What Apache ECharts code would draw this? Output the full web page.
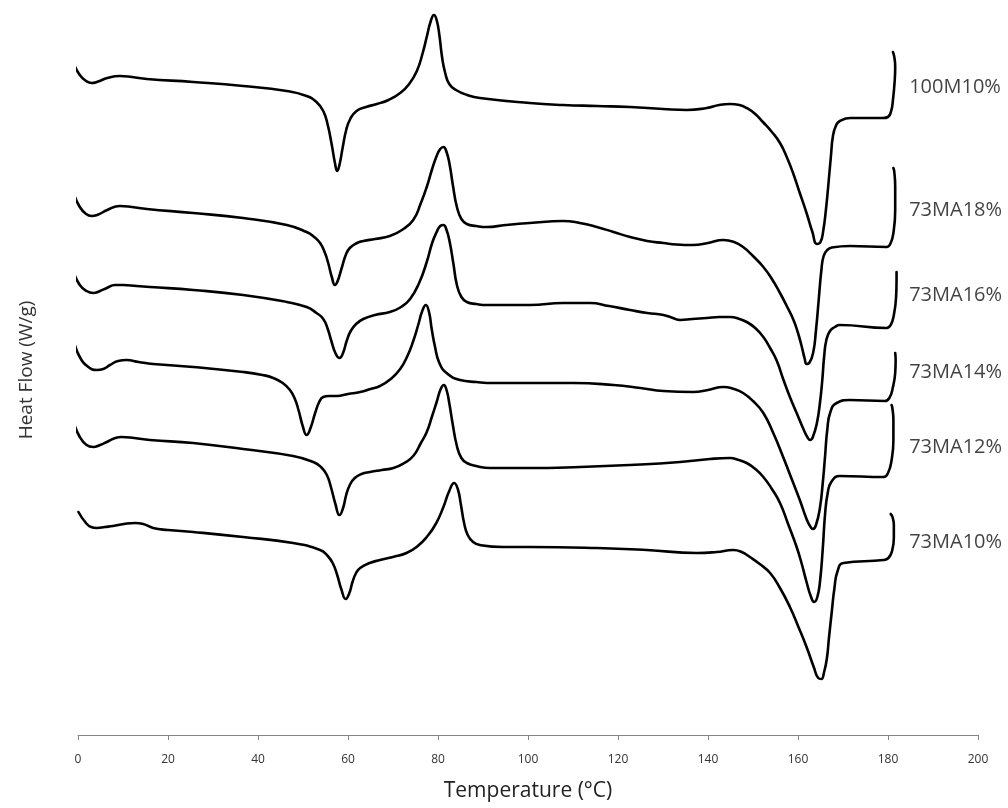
<!DOCTYPE html>
<html><head><meta charset="utf-8">
<script src="https://cdn.jsdelivr.net/npm/echarts@6/dist/echarts.min.js"></script>
<style>html,body{margin:0;padding:0;background:#fff}#c{width:1008px;height:808px}</style>
</head><body><div id="c"></div><script>
// Sample names (top to bottom)
const sampleNames = ['100M10%', '73MA18%', '73MA16%', '73MA14%', '73MA12%', '73MA10%'];

// Temperature (°C) and stacked heat flow (offset units) for each trace
const t_100M10 = [-1.0,0.4,1.8,3.0,4.5,6.5,9.3,12,15.3,25.6,36.7,46.4,50.8,53.0,54.5,55.5,56.4,57.1,57.6,58.1,58.8,59.6,60.5,61.9,64,66.4,69,71.6,73.6,75.3,76.6,77.6,78.4,79.1,79.7,80.3,80.9,81.6,82.5,84,86.5,89.3,100.4,107.8,115.3,122.7,130.0,135.3,139.7,142.5,144.9,147,148.6,150.5,152.2,154.2,156.0,157.5,158.9,160.4,161.9,163.2,164.2,165.0,165.6,166.2,166.7,167.3,167.8,168.5,169.3,171.6,178.9,180.0,180.7,181.1,181.5,181.6,181.4,181.1];
const hf_100M10 = [67.2,66.0,65.4,65.2,65.35,65.7,65.9,65.8,65.6,65.3,64.9,64.4,63.9,63.3,62.4,61.0,59.0,57.2,56.4,57.0,58.7,60.5,61.6,62.4,62.8,63.1,63.5,64.2,65.1,66.4,68.2,70.0,71.4,72.0,71.5,70.0,67.8,66.2,65.1,64.5,64.0,63.7,63.2,63.0,62.9,62.8,62.6,62.5,62.7,63.0,63.1,63.0,62.7,62.1,61.3,60.3,59.2,57.8,56.2,54.2,52.2,50.3,49.1,49.3,50.4,52.5,54.8,57.8,60.0,61.0,61.4,61.7,61.7,61.8,62.4,63.5,65.5,66.8,67.8,68.3];

const t_73MA18 = [-1.0,0.4,1.8,3.0,4.5,6.5,9.3,12,15.3,25.6,36.7,46.4,50.8,52.5,53.8,54.8,55.6,56.4,57.1,57.7,58.6,59.5,60.4,62,63.4,66,69.3,72,74.5,76.2,77.5,78.7,79.7,80.5,81.2,81.9,82.6,83.3,84.2,85.2,86.4,88.5,90.8,95,100.4,107.8,111.5,115.3,119,122.7,126.5,130.1,133,136.7,140,143.4,145.8,147.8,150,152.3,154.2,156.0,157.5,159.0,160.0,160.8,161.5,161.9,162.5,163.4,164.0,164.6,165.2,165.7,166.5,167.5,171.6,179.7,180.5,181.2,181.6,181.6,181.4,181.2];
const hf_73MA18 = [54.2,52.8,52.1,51.9,52.05,52.5,52.9,52.8,52.6,52.2,51.7,51.0,50.3,49.8,49.2,48.3,47.2,45.8,45.0,45.4,46.7,48.0,48.7,49.2,49.4,49.6,49.9,50.5,51.5,53.2,54.8,56.6,57.9,58.6,58.8,58.3,57.0,55.0,52.8,51.6,51.1,50.9,50.8,51.0,51.2,51.4,51.2,50.8,50.3,49.8,49.4,49.2,49.05,49.0,49.2,49.5,49.3,48.8,47.9,46.8,45.6,44.2,42.9,41.5,40.2,38.9,37.6,37.1,37.2,38.3,40.5,43.5,46.5,47.9,48.5,48.75,48.9,48.8,49.1,50.2,52.5,54.8,56.3,56.7];

const t_73MA16 = [-1.0,0.4,1.9,3.4,4.9,6.4,8.2,10.1,13,16.0,25.6,36.7,46.4,50.8,53,54.5,55.5,56.3,57.2,58.1,58.9,59.7,60.6,61.8,63.4,66,69.3,71.8,73.8,75.8,77.5,78.7,79.7,80.5,81.2,81.9,82.6,83.4,84.2,85.2,86.4,88.5,90.8,100.4,107.8,113.8,118,122.7,126.5,130.1,132.2,133.8,136.5,139.7,142.5,144.9,147,148.6,150.5,152.3,153.8,155.3,156.7,158.2,159.7,161.2,162.2,162.7,163.3,164.2,164.9,165.4,165.8,166.3,167.1,168.2,169.3,179.7,180.6,181.3,181.8,181.9,181.9];
const hf_73MA16 = [46.3,45.0,44.4,44.2,44.4,44.7,45.0,45.0,44.9,44.8,44.5,44.0,43.3,42.8,42.2,41.6,40.6,39.4,38.2,37.7,38.2,39.4,40.4,41.1,41.6,42.0,42.3,42.8,43.6,45.2,47.3,49.2,50.3,50.9,51.0,50.5,49.3,47.2,45.0,43.8,43.3,43.1,43.0,43.0,43.2,43.2,42.9,42.5,42.2,42.0,41.7,41.5,41.6,41.7,41.8,41.8,41.6,41.3,40.7,39.8,38.7,37.4,35.6,33.8,32.2,30.6,29.7,29.5,29.8,31.2,33.3,35.5,37.8,39.5,40.4,40.8,41.0,40.7,41.0,42.0,43.8,45.5,46.3];

const t_73MA14 = [-1.0,0.4,2.3,4.2,5.6,7.1,8.9,10.8,13.5,16.7,25.6,36.7,41,43.4,45.5,47.1,48.2,49.0,50.0,50.8,51.6,52.7,53.6,54.5,55.8,57.5,60,62.7,65,67.1,69.5,71.6,73.2,74.5,75.6,76.5,77.3,78.0,78.6,79.3,80.3,81.9,84.9,88.5,92.3,100.4,110.1,119.0,125,130.1,136.7,140,143.4,145.8,147.8,150,152.3,154.5,156.7,158.6,160.4,161.9,162.8,163.3,164.0,164.9,165.5,166.0,166.5,167.2,168.6,171.6,179.3,180.3,181.1,181.6,181.7,181.6];
const hf_73MA14 = [39.5,37.8,36.8,36.5,36.6,37.0,37.4,37.5,37.3,37.1,36.8,36.3,36.0,35.7,35.2,34.5,33.6,32.5,30.8,30.0,30.6,32.2,33.3,33.8,33.9,33.9,34.1,34.3,34.6,34.9,35.6,36.6,37.9,39.4,41.0,42.4,43.0,42.3,40.6,38.9,37.2,36.2,35.5,35.3,35.2,35.2,35.2,35.0,34.7,34.4,34.3,34.5,34.8,34.6,34.2,33.4,32.2,30.2,27.8,25.6,23.5,21.6,20.8,20.6,21.0,22.8,25.2,27.8,30.5,32.3,33.2,33.5,33.4,33.7,34.8,36.2,37.5,38.2];

const t_73MA12 = [-1.0,0.4,1.9,3.4,4.9,6.4,8,9.7,12.5,16.0,25.6,36.7,47.8,52.3,54.0,55.3,56.2,57.2,58.1,58.9,59.6,60.4,61.5,63,64.9,67.5,70.1,72.5,74.5,76.2,77.5,78.7,79.7,80.6,81.3,81.9,82.5,83.3,84.2,85.2,86.4,88.5,91.6,100.4,111.6,122.7,133.8,140.4,144.9,146.8,148.6,150.5,152.3,154.2,156.0,157.8,159.7,160.9,161.9,162.9,163.6,164.3,164.9,165.5,166.0,166.6,167.4,169.3,179.0,180.0,180.8,181.2,181.2,181.0,180.8];
const hf_73MA12 = [31.3,29.8,29.0,28.8,29.0,29.3,29.65,29.8,29.7,29.5,29.2,28.6,27.9,27.3,26.8,26.0,24.8,23.1,22.0,22.7,24.0,25.0,25.7,26.1,26.3,26.5,26.7,27.2,27.9,29.2,30.3,31.9,33.3,34.6,35.0,34.5,33.2,31.0,28.9,27.7,27.2,26.9,26.7,26.7,26.8,27.0,27.3,27.6,27.7,27.5,27.2,26.6,25.8,24.6,23.2,21.1,18.8,17.0,15.3,13.8,13.3,13.8,15.4,18.6,22.0,24.2,25.3,25.9,25.8,26.2,27.5,29.5,31.5,32.6,33.0];

const t_73MA10 = [0.1,1.6,2.9,4.2,6.0,7.8,10.2,12.7,14.5,16.7,20,25.6,36.7,47.8,53.8,55.5,56.7,57.6,58.5,59.5,60.3,61.0,61.8,62.7,64.8,67.1,70,73.0,75.5,77.5,79.5,81.2,82.5,83.6,84.4,85.1,85.8,86.6,87.8,89.3,94.5,100.4,115.3,126.4,137.5,141.9,145.6,147.5,149.3,151.5,153.8,156.0,158.2,160.1,161.9,163.5,164.5,165.2,165.8,166.4,166.9,167.5,168.1,168.8,170.1,179.0,180.1,180.9,181.3,181.3,181.0,180.6];
const hf_73MA10 = [22.3,21.3,20.8,20.7,20.8,20.9,21.1,21.2,21.1,20.7,20.5,20.3,19.8,19.2,18.5,17.9,17.1,16.0,14.6,13.6,14.2,15.3,16.2,16.7,17.2,17.5,17.8,18.2,18.9,19.8,21.1,22.8,24.4,25.2,24.6,23.0,21.2,20.0,19.3,19.0,18.8,18.8,18.7,18.5,18.2,18.3,18.5,18.3,17.8,17.1,16.2,14.7,12.8,10.8,8.8,6.8,5.7,5.6,6.3,7.6,9.8,12.3,14.7,16.4,17.2,17.5,17.7,18.4,19.7,21.0,21.8,22.1];

// Where each sample name sits (temperature, heat-flow units)
const labelT = [184.7, 184.7, 184.7, 184.7, 184.7, 184.7];
const labelHF = [64.8, 52.5, 44.0, 36.3, 28.8, 19.3];

const xTicks = [0, 20, 40, 60, 80, 100, 120, 140, 160, 180, 200];

const temps = [t_100M10, t_73MA18, t_73MA16, t_73MA14, t_73MA12, t_73MA10];
const flows = [hf_100M10, hf_73MA18, hf_73MA16, hf_73MA14, hf_73MA12, hf_73MA10];

const series = sampleNames.map((name, i) => ({
  name: name,
  type: 'line',
  data: temps[i].map((t, j) => [t, flows[i][j]]),
  smooth: 0.5,
  showSymbol: false,
  clip: false,
  lineStyle: { color: '#000', width: 2.6, join: 'round', cap: 'round' },
  emphasis: { disabled: true }
}));

series.push({
  type: 'scatter',
  symbolSize: 0,
  silent: true,
  data: sampleNames.map((n, i) => ({ name: n, value: [labelT[i], labelHF[i]] })),
  label: {
    show: true,
    position: 'right',
    distance: 0,
    formatter: p => p.name,
    fontFamily: 'Open Sans',
    fontSize: 20,
    color: '#111'
  }
});

const chart = echarts.init(document.getElementById('c'), null, { renderer: 'canvas' });
chart.setOption({
  animation: false,
  backgroundColor: '#fff',
  grid: { left: 78, right: 30, top: 5, bottom: 73, containLabel: false },
  xAxis: {
    type: 'value',
    min: xTicks[0], max: xTicks[xTicks.length - 1], interval: 20,
    name: 'Temperature (°C)',
    nameLocation: 'middle',
    nameGap: 46,
    nameTextStyle: { fontFamily: 'Open Sans', fontSize: 21, color: '#222' },
    axisLine: { show: true, lineStyle: { color: '#868686', width: 1 } },
    axisTick: { show: true, length: 5, lineStyle: { color: '#868686' } },
    axisLabel: { margin: 19, fontFamily: 'Open Sans', fontSize: 12, color: '#333' },
    splitLine: { show: false }
  },
  yAxis: {
    type: 'value',
    min: 0, max: 73,
    name: 'Heat Flow (W/g)',
    nameLocation: 'middle',
    nameGap: 42,
    nameRotate: 90,
    nameTextStyle: { fontFamily: 'Open Sans', fontSize: 19, color: '#333' },
    axisLine: { show: false },
    axisTick: { show: false },
    axisLabel: { show: false },
    splitLine: { show: false }
  },
  series: series
});
</script></body></html>
